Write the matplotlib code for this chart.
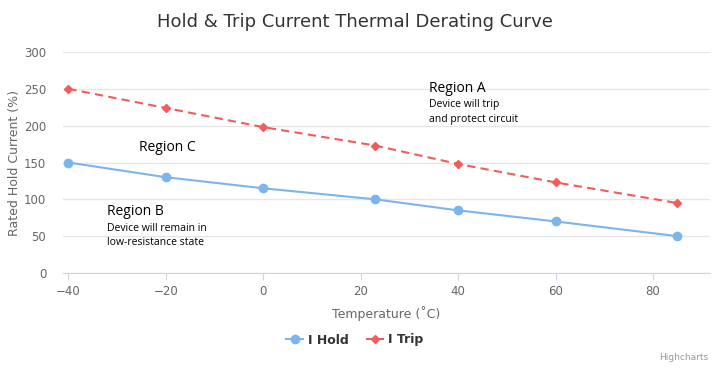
import matplotlib
matplotlib.use("Agg")
import matplotlib.pyplot as plt
from matplotlib.lines import Line2D

# Werte
temperature = [-40, -20, 0, 23, 40, 60, 85]
i_hold = [150, 130, 115, 100, 85, 70, 50]
i_trip = [250, 224, 198, 173, 148, 123, 95]
y_ticks = [0, 50, 100, 150, 200, 250, 300]
x_ticks = [-40, -20, 0, 20, 40, 60, 80]

HOLD_COLOR = "#7cb5ec"
TRIP_COLOR = "#f45b5b"

plt.rcParams["font.family"] = ["DejaVu Sans"]

fig = plt.figure(figsize=(7.25, 3.74), dpi=100)
ax = fig.add_axes([63 / 725, 1 - 273 / 374, (710 - 63) / 725, (273 - 52) / 374])

ax.plot(temperature, i_hold, color=HOLD_COLOR, lw=1.5, marker="o", ms=6,
        label="I Hold", zorder=3)
ax.plot(temperature, i_trip, color=TRIP_COLOR, lw=1.5, ls=(0, (4, 2.5)),
        marker="D", ms=4.5, label="I Trip", zorder=3)

ax.set_xlim(-41.1, 91.7)
ax.set_ylim(0, 300)
ax.set_yticks(y_ticks)
ax.set_xticks(x_ticks)
ax.set_xticklabels([str(t).replace("-", "\u2212") for t in x_ticks])

ax.grid(axis="y", color="#e6e6e6", lw=1)
ax.set_axisbelow(True)
for side in ["top", "right", "left"]:
    ax.spines[side].set_visible(False)
ax.spines["bottom"].set_color("#ccd6eb")
ax.tick_params(axis="y", length=0, colors="#666666", labelsize=8.5, pad=12)
ax.tick_params(axis="x", length=5, color="#ccd6eb", colors="#666666", labelsize=8.5)

ax.set_xlabel("Temperature (\u02daC)", color="#666666", fontsize=9, labelpad=6)
ax.set_ylabel("Rated Hold Current (%)", color="#666666", fontsize=9, labelpad=2)

fig.text(355 / 725, 1 - 22 / 374, "Hold & Trip Current Thermal Derating Curve",
         ha="center", va="center", fontsize=13, color="#333333")

# Bereichsbeschriftungen
ann_font = "Open Sans"
ax.text(34, 251, "Region A", fontsize=10, family=ann_font, va="center")
ax.text(34, 229, "Device will trip", fontsize=7.5, family=ann_font, va="center")
ax.text(34, 208, "and protect circuit", fontsize=7.5, family=ann_font, va="center")
ax.text(-25.6, 171, "Region C", fontsize=10, family=ann_font, va="center")
ax.text(-32, 83, "Region B", fontsize=10, family=ann_font, va="center")
ax.text(-32, 61, "Device will remain in", fontsize=7.5, family=ann_font, va="center")
ax.text(-32, 41, "low-resistance state", fontsize=7.5, family=ann_font, va="center")

handles = [
    Line2D([], [], color=HOLD_COLOR, lw=1.5, marker="o", ms=6),
    Line2D([], [], color=TRIP_COLOR, lw=1.5, marker="D", ms=4.5),
]
leg = fig.legend(handles, ["I Hold", "I Trip"], loc="center", ncol=2,
                 bbox_to_anchor=(355 / 725, 1 - 340 / 374), frameon=False,
                 handlelength=1.3, columnspacing=1.5, handletextpad=0.4,
                 prop={"weight": "bold", "size": 9})
for t in leg.get_texts():
    t.set_color("#333333")

fig.text(708 / 725, 1 - 358 / 374, "Highcharts", ha="right", va="center",
         fontsize=6.5, color="#999999")

fig.savefig("out.png", dpi=100)
